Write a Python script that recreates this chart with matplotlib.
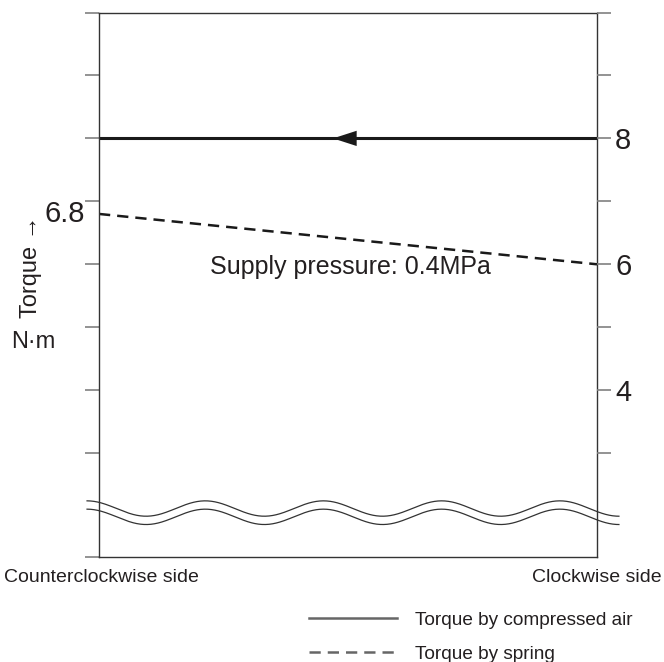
import matplotlib
matplotlib.use('Agg')
import matplotlib.pyplot as plt
from matplotlib.lines import Line2D
import numpy as np

plt.rcParams['font.family'] = ['Liberation Sans', 'DejaVu Sans']

# data
x_pos = [0, 1]
air_torque = [8, 8]
spring_torque = [6.8, 6]
tick_values = [3, 4, 5, 6, 7, 8, 9, 10]
right_labels = ['', '4', '', '6', '', '8', '', '']
y_bottom = 1.35
y_top = 10

# axis break wave
wave_level = 2.12
wave_amp = 0.122
wave_gap = 0.132
wave_periods = 4.5

text_col = '#231f20'
tick_col = '#808080'

fig = plt.figure(figsize=(6.64, 6.62), dpi=100)
ax = fig.add_axes([99 / 664, 1 - 557 / 662, 498 / 664, (557 - 12.5) / 662])
ax.set_xlim(0, 1)
ax.set_ylim(y_bottom, y_top)

ax.plot(x_pos, air_torque, color='#1a1a1a', linewidth=2.2, solid_capstyle='butt')
ax.plot(x_pos, spring_torque, color='#1a1a1a', linewidth=1.8, dashes=(4.5, 2.8))
ax.annotate('', xy=(0.47, air_torque[0]), xytext=(0.53, air_torque[0]),
            arrowprops=dict(arrowstyle='-|>,head_length=1.7,head_width=0.55',
                            color='#1a1a1a', lw=0, shrinkA=0, shrinkB=0,
                            mutation_scale=10))

# break lines
wx = np.linspace(-0.024, 1.044, 600)
wy = wave_level + wave_amp * np.cos(2 * np.pi * wave_periods * (wx - wx[0]) / (wx[-1] - wx[0]))
ax.plot(wx, wy, color='#333333', linewidth=0.9, clip_on=False)
ax.plot(wx, wy - wave_gap, color='#333333', linewidth=0.9, clip_on=False)

for s in ax.spines.values():
    s.set_color('#333333')
    s.set_linewidth(1.0)

ax.set_xticks([])
ax.set_yticks([y_bottom] + tick_values)
ax.set_yticklabels([])
ax.tick_params(axis='y', direction='out', length=10, width=1.2, color=tick_col)

ax2 = ax.twinx()
ax2.set_ylim(y_bottom, y_top)
ax2.set_yticks(tick_values)
ax2.set_yticklabels(right_labels)
ax2.tick_params(axis='y', direction='out', length=10, width=1.2, color=tick_col,
                labelsize=21, labelcolor=text_col, pad=3)
for s in ax2.spines.values():
    s.set_visible(False)

ax.text(-0.028, spring_torque[0], '6.8', ha='right', va='center', fontsize=21, color=text_col)
ax.text(0.223, 5.95, 'Supply pressure: 0.4MPa', ha='left', va='center', fontsize=18, color=text_col)

fig.text(31 / 664, 1 - 267 / 662, 'Torque \u2192', rotation=90, ha='center', va='center',
         fontsize=17, color=text_col)
fig.text(33 / 664, 1 - 342 / 662, 'N\u00b7m', ha='center', va='center', fontsize=17, color=text_col)

fig.text(4 / 664, 1 - 577 / 662, 'Counterclockwise side', ha='left', va='center', fontsize=14, color=text_col)
fig.text(662 / 664, 1 - 577 / 662, 'Clockwise side', ha='right', va='center', fontsize=14, color=text_col)

handles = [Line2D([], [], color='#666666', linewidth=1.8),
           Line2D([], [], color='#666666', linewidth=1.8, dashes=(4.5, 2.8))]
fig.legend(handles, ['Torque by compressed air', 'Torque by spring'],
           loc='upper left', bbox_to_anchor=(296 / 664, 1 - 598 / 662), frameon=False,
           fontsize=13.7, handlelength=4.6, handletextpad=0.95, labelspacing=0.9,
           labelcolor=text_col, borderpad=0.2)

fig.savefig('out.png', dpi=100)
